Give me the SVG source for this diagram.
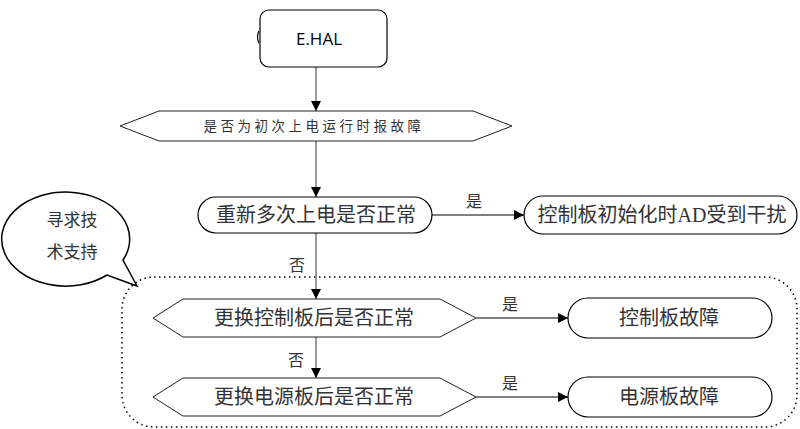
<svg xmlns="http://www.w3.org/2000/svg" width="800" height="429" viewBox="0 0 800 429">
<defs>
<marker id="ah" markerWidth="10" markerHeight="10" refX="10" refY="5" orient="auto" markerUnits="userSpaceOnUse" viewBox="0 0 10 10">
<path d="M0,0 L10,5 L0,10 Z" fill="#000"/>
</marker>
<style>
.box{fill:#fff;stroke:#000;stroke-width:1.2}
.hx{fill:#fff;stroke:#222;stroke-width:1}
.t{font-family:"Liberation Serif","Noto Sans CJK SC",serif;fill:#333;text-anchor:middle}
.big{font-size:20px}
.lbl{font-size:16px}
.v{stroke:#777;stroke-width:1.5;fill:none}
.h{stroke:#000;stroke-width:1.2;fill:none}
</style>
</defs>
<rect width="800" height="429" fill="#fff"/>
<g id="group-box">
<rect x="122" y="277" width="675" height="150" rx="32" ry="32" fill="none" stroke="#000" stroke-width="1.5" stroke-dasharray="1.5 3.5"/>
</g>
<g id="callout">
<path d="M123,260 A64,47 0 1 0 107,275 L137,286 Z" fill="#fff" stroke="#000" stroke-width="1.5" stroke-linejoin="miter"/>
<text class="t" x="72" y="226" font-size="17">寻求技</text>
<text class="t" x="72" y="258" font-size="17">术支持</text>
</g>
<g id="connectors">
<line class="v" x1="316" y1="67" x2="316" y2="111" marker-end="url(#ah)"/>
<line class="v" x1="316" y1="141" x2="316" y2="197" marker-end="url(#ah)"/>
<line class="h" x1="432" y1="215" x2="524" y2="215" marker-end="url(#ah)"/>
<line class="v" x1="316" y1="233" x2="316" y2="299" marker-end="url(#ah)"/>
<line class="h" x1="476" y1="318" x2="568" y2="318" marker-end="url(#ah)"/>
<line class="v" x1="316" y1="337" x2="316" y2="378" marker-end="url(#ah)"/>
<line class="h" x1="476" y1="397" x2="568" y2="397" marker-end="url(#ah)"/>
<text class="t lbl" x="474" y="207">是</text>
<text class="t lbl" x="297" y="271">否</text>
<text class="t lbl" x="510" y="310">是</text>
<text class="t lbl" x="296" y="366">否</text>
<text class="t lbl" x="510" y="389">是</text>
</g>
<g id="start">
<path d="M259,31 Q256,37 259,43" fill="none" stroke="#000" stroke-width="1.2"/>
<rect class="box" x="260" y="10" width="127" height="57" rx="9" ry="9" stroke-width="1.5"/>
<text x="319" y="45" font-family="'Open Sans','Noto Sans',sans-serif" font-size="17" fill="#000" text-anchor="middle">E.HAL</text>
</g>
<g id="q1">
<polygon class="hx" points="120,126 159,111 473,111 512,126 473,141 159,141"/>
<text class="t" x="314" y="131" font-size="13.5" letter-spacing="3.5">是否为初次上电运行时报故障</text>
</g>
<g id="q2">
<rect class="box" x="198" y="197" width="234" height="36" rx="18" ry="18"/>
<text class="t big" x="316" y="222">重新多次上电是否正常</text>
</g>
<g id="r1">
<rect class="box" x="524" y="196" width="273" height="38" rx="19" ry="19"/>
<text class="t big" x="662" y="222">控制板初始化时AD受到干扰</text>
</g>
<g id="q3">
<polygon class="hx" points="153,318 183,299 440,299 476,318 440,337 183,337"/>
<text class="t big" x="314" y="325">更换控制板后是否正常</text>
</g>
<g id="r2">
<rect class="box" x="568" y="298" width="204" height="40" rx="20" ry="20"/>
<text class="t big" x="669" y="325">控制板故障</text>
</g>
<g id="q4">
<polygon class="hx" points="153,397 183,378 440,378 476,397 440,416 183,416"/>
<text class="t big" x="314" y="404">更换电源板后是否正常</text>
</g>
<g id="r3">
<rect class="box" x="568" y="377" width="204" height="40" rx="20" ry="20"/>
<text class="t big" x="669" y="404">电源板故障</text>
</g>
</svg>
